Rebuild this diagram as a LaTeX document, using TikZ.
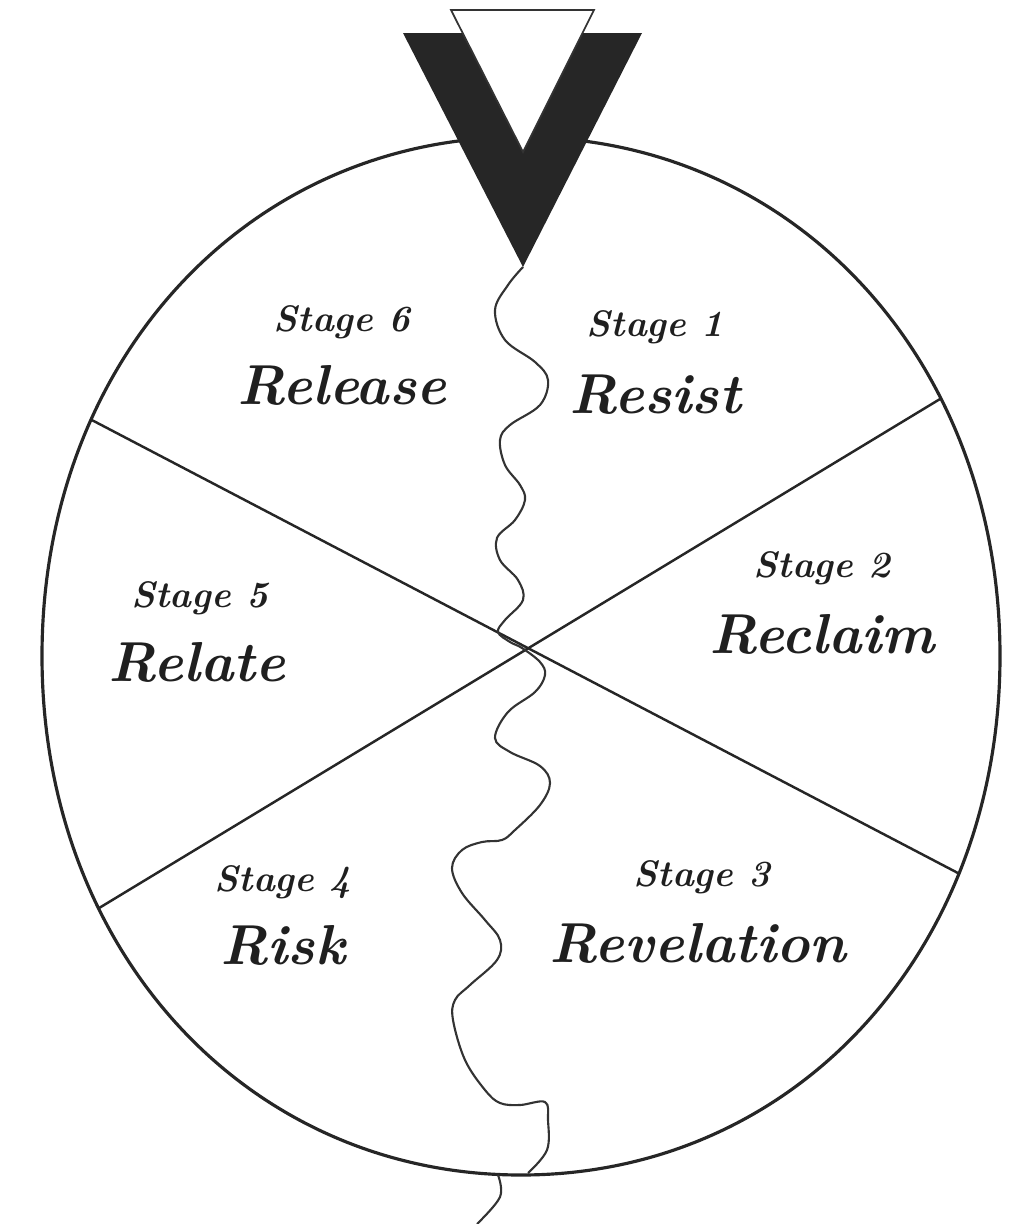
\documentclass[tikz,border=0pt]{standalone}
\usepackage{fontspec}
\setmainfont{Latin Modern Roman}

\newcommand\rimpath{(521,137) .. controls (794,137) and (1000,360) .. (1000,656)
  .. controls (1000,952) and (794,1175) .. (521,1175)
  .. controls (248,1175) and (42,952) .. (42,656)
  .. controls (42,360) and (248,137) .. cycle}

\begin{document}
\begin{tikzpicture}[
  x=0.01cm, y=-0.01cm,
  rim/.style={draw=black!85, line width=0.9pt},
  spoke/.style={draw=black!85, line width=0.7pt},
  wave/.style={draw=black!80, line width=0.6pt, line join=round},
  stagenum/.style={font=\fontsize{10.5}{12}\selectfont\bfseries\itshape, text=black!88},
  stagename/.style={font=\fontsize{16}{18}\selectfont\bfseries\itshape, text=black!88}
]
  \useasboundingbox (0,0) rectangle (1021,1224);

  % the wheel and its six spokes
  \coordinate (hub) at (521,656);
  \coordinate (spokeAa) at (0,372);
  \coordinate (spokeAb) at (1021,906);
  \coordinate (spokeBa) at (0,968);
  \coordinate (spokeBb) at (1021,350);
  \begin{scope}
    \clip \rimpath;
    \draw[spoke] (spokeAa) -- (spokeAb);
    \draw[spoke] (spokeBa) -- (spokeBb);
  \end{scope}
  \draw[rim] \rimpath;

  % stage labels
  \node[stagenum] (num1) at (655,327) {Stage 1};
  \node[stagename] (name1) at (655,395) {Resist};
  \node[stagenum] (num2) at (822,568) {Stage 2};
  \node[stagename] (name2) at (822,634) {Reclaim};
  \node[stagenum] (num3) at (702,877) {Stage 3};
  \node[stagename] (name3) at (698,943) {Revelation};
  \node[stagenum] (num4) at (283,882) {Stage 4};
  \node[stagename] (name4) at (283,945) {Risk};
  \node[stagenum] (num5) at (200,598) {Stage 5};
  \node[stagename] (name5) at (197,662) {Relate};
  \node[stagenum] (num6) at (342,322) {Stage 6};
  \node[stagename] (name6) at (342,385) {Release};

  % pointer on top
  \fill[black!85] (403,33) -- (523,267) -- (642,33) -- (582,33) -- (523,152) -- (463,33) -- cycle;
  \filldraw[fill=white, draw=black!80, line width=0.5pt] (451,10) -- (594,10) -- (523,152) -- cycle;
  \coordinate (vtip) at (523,267);

  % wavy thread
  \draw[wave] plot[smooth, tension=0.6] coordinates {
    (523,267) (508,285) (495,310) (505,340) (535,362) (548,380) (540,405)
    (510,425) (500,440) (505,465) (520,485) (525,500) (515,520) (497,538)
    (500,560) (518,580) (523,600) (505,620) (498,632) (510,642) (522,648)
    (540,662) (545,675) (535,692) (508,712) (495,738) (510,752) (540,766)
    (550,783) (540,805) (515,830) (502,840) (482,842) (462,850) (452,868)
    (462,893) (485,920) (500,940) (497,960) (470,985) (455,1000) (453,1020)
    (465,1060) (485,1090) (500,1103) (520,1105) (545,1102) (548,1120)
    (547,1150) (528,1173)};
  \draw[wave] plot[smooth, tension=0.6] coordinates {
    (498,1175) (500,1197) (477,1224)};
\end{tikzpicture}
\end{document}
